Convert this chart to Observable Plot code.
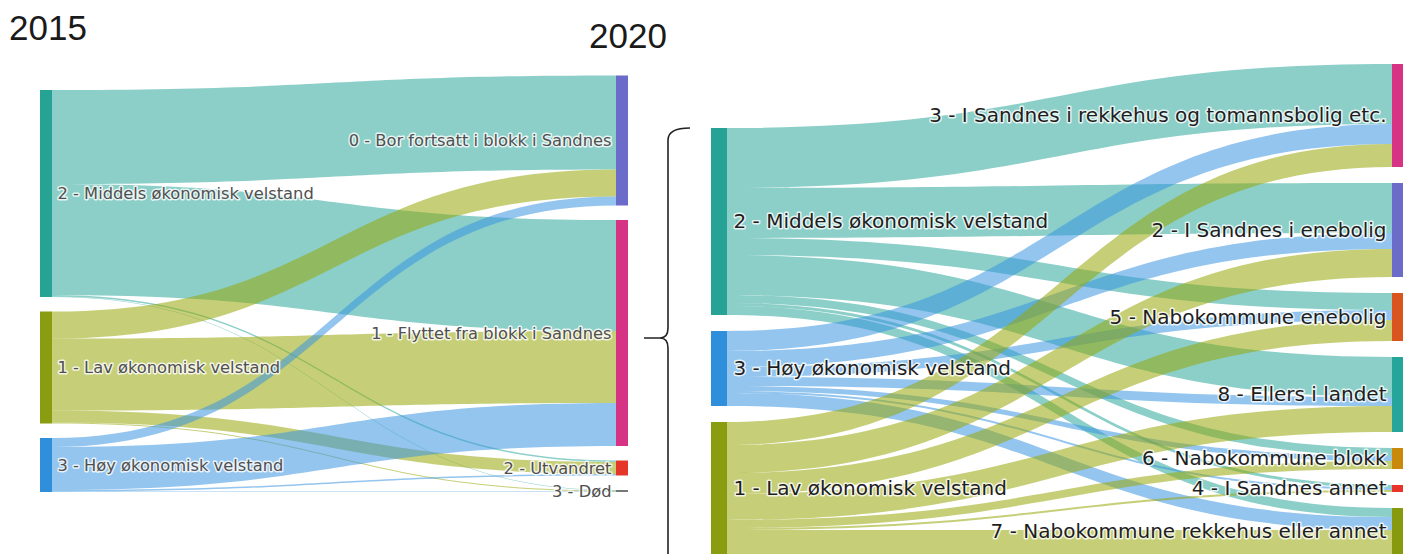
<!DOCTYPE html>
<html><head><meta charset="utf-8">
<script src="https://cdn.jsdelivr.net/npm/d3@7"></script>
<script src="https://cdn.jsdelivr.net/npm/@observablehq/plot@0.6"></script>
<style>
body{margin:0;background:#fff;}
#wrap{position:relative;width:1403px;height:554px;overflow:hidden;}
.title{position:absolute;font-family:"Liberation Sans",Arial,sans-serif;font-size:35px;line-height:1;color:#1a1a1a;}
#left{position:absolute;left:0;top:0;width:640px;height:554px;}
#right{position:absolute;left:640px;top:0;width:763px;height:554px;overflow:hidden;}
#brace{position:absolute;left:0;top:0;pointer-events:none;}
</style></head><body>
<div id="wrap">
  <div class="title" style="left:9px;top:10px">2015</div>
  <div class="title" style="left:589px;top:18px">2020</div>
  <div id="left"></div>
  <div id="right"></div>
  <svg id="brace" width="1403" height="554"></svg>
</div>
<script>
// ---------- DATA ----------
// Left diagram: 2015 welfare group -> 2020 outcome
const leftSources = ["2 - Middels økonomisk velstand", "1 - Lav økonomisk velstand", "3 - Høy økonomisk velstand"];
const leftTargets = ["0 - Bor fortsatt i blokk i Sandnes", "1 - Flyttet fra blokk i Sandnes", "2 - Utvandret", "3 - Død"];
// flows from each source, in leftTargets order
const leftMiddels = [94, 111, 1.5, 0.5];
const leftLav     = [27, 72, 12, 1];
const leftHoy     = [9, 43, 1.5, 0.5];

// Right diagram: movers by welfare group -> destination
const rightSources = ["2 - Middels økonomisk velstand", "3 - Høy økonomisk velstand", "1 - Lav økonomisk velstand"];
const rightTargets = ["3 - I Sandnes i rekkehus og tomannsbolig etc.", "2 - I Sandnes i enebolig", "5 - Nabokommune enebolig", "8 - Ellers i landet", "6 - Nabokommune blokk", "4 - I Sandnes annet", "7 - Nabokommune rekkehus eller annet"];
// flows from each source, in rightTargets order
const rightMiddels = [60, 50, 17, 40, 8, 3, 9];
const rightHoy     = [20, 16, 10, 9, 5, 2, 13];
const rightLav     = [23, 28, 21, 26, 8, 2, 24];

// ---------- STYLES ----------
const COL = {middels: "#27a396", lav: "#8a9c10", hoy: "#2f8fdb"};
const LINK = {middels: "#2ba89b", lav: "#98a80a", hoy: "#3a96e0"};
const leftStyle = {
  srcColors: [COL.middels, COL.lav, COL.hoy],
  linkColors: [LINK.middels, LINK.lav, LINK.hoy],
  tgtColors: ["#6b6bca", "#d63384", "#e5362a", "#777777"]
};
const rightStyle = {
  srcColors: [COL.middels, COL.hoy, COL.lav],
  linkColors: [LINK.middels, LINK.hoy, LINK.lav],
  tgtColors: ["#d63384", "#6b6bca", "#d9541e", "#26a69a", "#c98a0b", "#e8332a", "#879a0e"]
};

// ---------- LAYOUT ----------
function layout(sources, targets, matrix, gap) {
  const srcTot = matrix.map(r => d3.sum(r));
  const tgtTot = targets.map((_, j) => d3.sum(matrix, r => r[j]));
  const srcExt = d3.sum(srcTot) + gap * (sources.length - 1);
  const tgtExt = d3.sum(tgtTot) + gap * (targets.length - 1);
  const ext = Math.max(srcExt, tgtExt);
  let y = ext - srcExt;
  const sNodes = sources.map((name, i) => { const n = {name, i, y0: y, y1: y + srcTot[i]}; y = n.y1 + gap; return n; });
  y = ext - tgtExt;
  const tNodes = targets.map((name, j) => { const n = {name, j, y0: y, y1: y + tgtTot[j]}; y = n.y1 + gap; return n; });
  const links = [];
  sNodes.forEach((s, i) => {
    let sy = s.y0;
    targets.forEach((_, j) => { const v = matrix[i][j]; links.push({i, j, v, sy0: sy, sy1: sy + v}); sy += v; });
  });
  tNodes.forEach((t, j) => {
    let ty = t.y0;
    sources.forEach((_, i) => { const l = links.find(l => l.i === i && l.j === j); l.ty0 = ty; l.ty1 = ty + l.v; ty += l.v; });
  });
  return {ext, sNodes, tNodes, links};
}

function sankey(o) {
  const L = layout(o.sources, o.targets, o.matrix, o.gap);
  const w = o.nodeW;
  const pts = L.links.flatMap((l, k) => [
    {k, x: w, y1: l.sy0, y2: l.sy1, c: o.style.linkColors[l.i]},
    {k, x: 1 - w, y1: l.ty0, y2: l.ty1, c: o.style.linkColors[l.i]}
  ]);
  const nodes = [
    ...L.sNodes.map(n => ({xa: 0, xb: w, y0: n.y0, y1: n.y1, c: o.style.srcColors[n.i], name: n.name, side: "s"})),
    ...L.tNodes.map(n => ({xa: 1 - w, xb: 1, y0: n.y0, y1: n.y1, c: o.style.tgtColors[n.j], name: n.name, side: "t"}))
  ];
  const textOpts = {y: d => (d.y0 + d.y1) / 2, text: "name", fontSize: o.fontSize, fontFamily: o.fontFamily,
    fill: o.textColor, stroke: "white", strokeWidth: o.halo, strokeOpacity: 0.8, paintOrder: "stroke"};
  const svg = Plot.plot({
    width: o.width, height: o.height, margin: 0,
    x: {domain: [0, 1], range: o.xRange, axis: null},
    y: {domain: [0, L.ext], range: [o.bottom - L.ext * o.ky, o.bottom], axis: null},
    color: {type: "identity"},
    style: {background: "transparent", overflow: "visible"},
    marks: [
      Plot.area(pts, {x1: "x", y1: "y1", y2: "y2", z: "k", fill: "c", fillOpacity: 0.55, curve: "bump-x"}),
      Plot.rect(nodes, {x1: "xa", x2: "xb", y1: "y0", y2: "y1", fill: "c"}),
      Plot.text(nodes.filter(d => d.side === "s"), {...textOpts, x: "xb", textAnchor: "start", dx: o.labelPad}),
      Plot.text(nodes.filter(d => d.side === "t"), {...textOpts, x: "xa", textAnchor: "end", dx: -o.labelPad})
    ]
  });
  svg.style.maxWidth = "none";
  return svg;
}

document.getElementById("left").append(sankey({
  sources: leftSources, targets: leftTargets, matrix: [leftMiddels, leftLav, leftHoy],
  gap: 14.5, width: 640, height: 554, xRange: [40, 628], bottom: 492, ky: 1, nodeW: 12 / 588,
  style: leftStyle, fontSize: 16.3, fontFamily: "'DejaVu Sans', Verdana, sans-serif", textColor: "#505050", halo: 3, labelPad: 5
}));

document.getElementById("right").append(sankey({
  sources: rightSources, targets: rightTargets, matrix: [rightMiddels, rightHoy, rightLav],
  gap: 16, width: 763, height: 554, xRange: [71, 768], bottom: 554, ky: 1, nodeW: 16 / 697,
  style: rightStyle, fontSize: 20, fontFamily: "'DejaVu Sans', Verdana, sans-serif", textColor: "#1e1e1e", halo: 3, labelPad: 6
}));

// bracket annotation linking the two diagrams
const brace = d3.select("#brace");
brace.append("path")
  .attr("d", "M690,128 Q668,128 668,140 L668,328 Q668,338 660,338 Q668,338 668,348 L668,560 M644,338 L660,338")
  .attr("fill", "none").attr("stroke", "#222").attr("stroke-width", 1.6);
</script>
</body></html>
